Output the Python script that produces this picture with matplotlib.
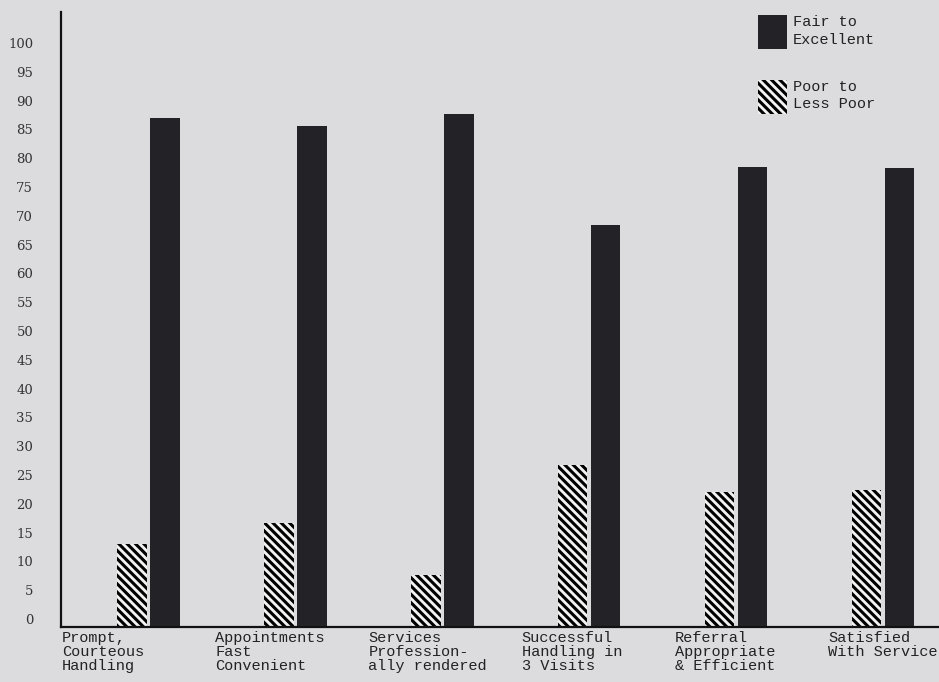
import matplotlib
matplotlib.use("Agg")
import matplotlib.pyplot as plt
from matplotlib.patches import Patch

# survey categories (x labels) and percentages
categories = [
    "Prompt,\nCourteous\nHandling",
    "Appointments\nFast\nConvenient",
    "Services\nProfession-\nally rendered",
    "Successful\nHandling in\n3 Visits",
    "Referral\nAppropriate\n& Efficient",
    "Satisfied\nWith Service",
]
poor = [13, 16.7, 7.6, 26.7, 22, 22.4]        # Poor to Less Poor
fair = [87, 85.6, 87.7, 68.4, 78.5, 78.3]     # Fair to Excellent
yticks = list(range(0, 101, 5))

bg = "#dcdcde"
dark = "#232327"
base = -1.4  # axis line sits a little below the 0 label
hatch = "\\\\\\\\"

plt.rcParams["hatch.linewidth"] = 2.2

fig = plt.figure(figsize=(9.39, 6.82), dpi=100, facecolor=bg)
ax = fig.add_axes([61 / 939, 55 / 682, 1 - 61 / 939, 615 / 682])
ax.set_facecolor(bg)

w = 0.2
off = 0.1125
for i in range(len(categories)):
    ax.bar(i - off, poor[i] - base, w, bottom=base, facecolor="#f2f2f2",
           edgecolor="black", linewidth=0, hatch=hatch)
    ax.bar(i + off, fair[i] - base, w, bottom=base, color=dark, linewidth=0)

ax.set_xlim(-0.596, 5.381)
ax.set_ylim(base, 105.4)

for s in ["top", "right"]:
    ax.spines[s].set_visible(False)
ax.spines["left"].set_linewidth(1.6)
ax.spines["bottom"].set_linewidth(1.6)
ax.spines["left"].set_color("#111")
ax.spines["bottom"].set_color("#111")

ax.set_yticks(yticks)
ax.set_yticklabels([str(v) for v in yticks], family="DejaVu Serif",
                   fontsize=9.5, color="#333")
ax.tick_params(axis="y", length=0, pad=20)

# labels are left aligned, slightly wider spread than the bar pairs
ax.set_xticks([-0.589 + 1.043 * i for i in range(len(categories))])
ax.set_xticklabels(categories, family="Liberation Mono", fontsize=11,
                   ha="left", va="top", linespacing=1.0, color="#222")
ax.tick_params(axis="x", length=0, pad=3)

handles = [
    Patch(facecolor=dark, edgecolor=dark, linewidth=0),
    Patch(facecolor="#f2f2f2", edgecolor="black", linewidth=0, hatch=hatch),
]
leg = ax.legend(handles, ["Fair to\nExcellent", "Poor to\nLess Poor"],
                loc="upper left", bbox_to_anchor=(758 / 939, 1 - 15 / 682),
                bbox_transform=fig.transFigure, frameon=False, borderpad=0,
                handlelength=1.9, handleheight=3.05, handletextpad=0.4,
                labelspacing=2.0, borderaxespad=0,
                prop={"family": "Liberation Mono", "size": 11})
for t in leg.get_texts():
    t.set_linespacing(1.3)
    t.set_color("#222")

fig.savefig("out.png", dpi=100, facecolor=bg)
